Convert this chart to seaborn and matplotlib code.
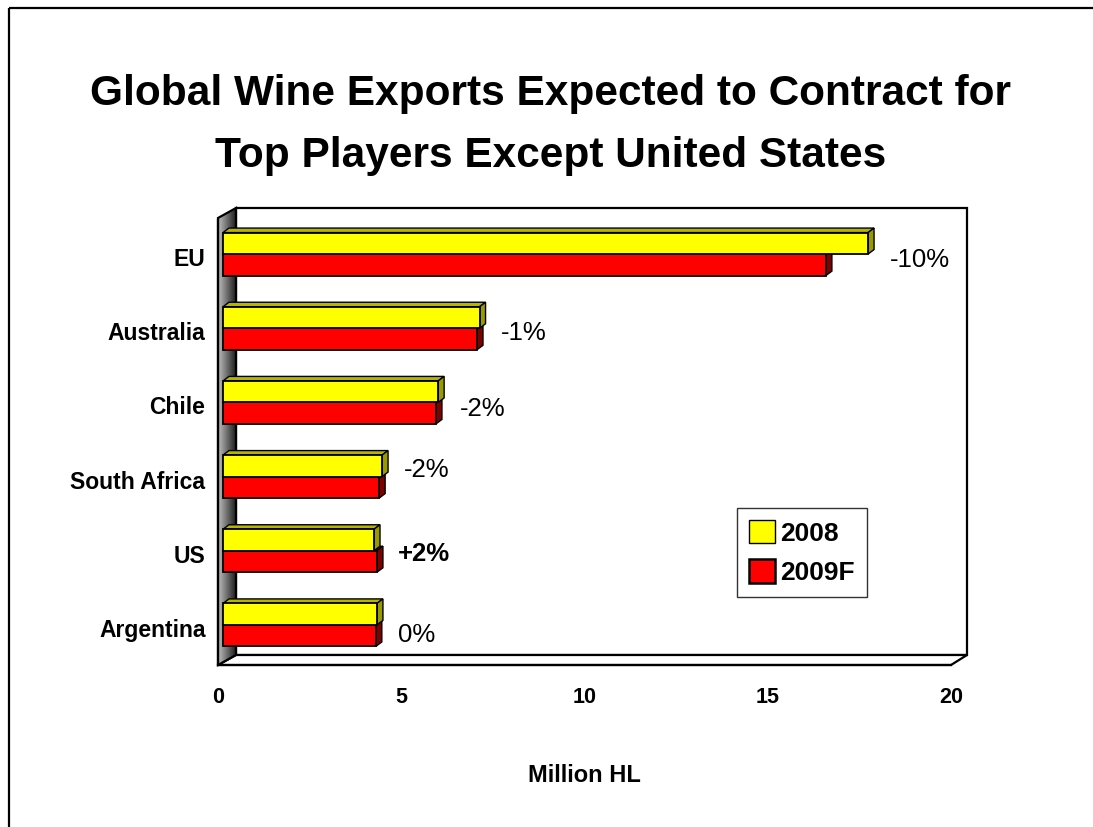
import numpy as np
import pandas as pd
import matplotlib
matplotlib.use("Agg")
import matplotlib.pyplot as plt
import matplotlib.transforms as mtransforms
from matplotlib.patches import Polygon, Patch
import seaborn as sns

# ---------------- data ----------------
countries = ["EU", "Australia", "Chile", "South Africa", "US", "Argentina"]
years = ["2008", "2009F"]
values_2008 = [17.6, 7.0, 5.87, 4.34, 4.12, 4.2]
values_2009 = [16.45, 6.93, 5.81, 4.26, 4.2, 4.17]
change_labels = ["-10%", "-1%", "-2%", "-2%", "+2%", "0%"]
change_bold = [False, False, False, False, True, False]
label_dy = [0.04, 0.03, 0.05, -0.13, 0.01, 0.09]
x_ticks = [0, 5, 10, 15, 20]

title_lines = ["Global Wine Exports Expected to Contract for",
               "Top Players Except United States"]
x_label = "Million HL"

front_colors = ["#FFFF00", "#FF0000"]
top_colors = ["#B5B500", "#990000"]
side_colors = ["#999900", "#800000"]

df = pd.DataFrame({
    "Country": countries * 2,
    "Year": [years[0]] * len(countries) + [years[1]] * len(countries),
    "Value": values_2008 + values_2009,
})

# ---------------- style ----------------
sns.set_style("white")
plt.rcParams["font.family"] = ["Liberation Sans", "DejaVu Sans"]
for key in ["text.color", "axes.labelcolor", "xtick.color", "ytick.color"]:
    plt.rcParams[key] = "black"

W, H = 1093, 827
fig = plt.figure(figsize=(W / 100, H / 100), dpi=100)
fig.patch.set_facecolor("white")

# pixel geometry of the chart frame
fx0, fx1 = 218, 951      # front plane x range
fy0, fy1 = 220, 665      # front plane y range (top, bottom)
DX, DY = 18, 10          # wall depth offset

# background axes in pixel coordinates
bg = fig.add_axes([0, 0, 1, 1], zorder=0)
bg.set_xlim(0, W)
bg.set_ylim(H, 0)
bg.axis("off")

# outer frame (top + left visible)
bg.plot([9, W], [8, 8], color="black", lw=1.6, solid_capstyle="butt")
bg.plot([9, 9], [8, H], color="black", lw=1.6, solid_capstyle="butt")

# back wall
bx0, by0, bx1, by1 = fx0 + DX, fy0 - 12, fx1 + 16, fy1 - DY
bg.add_patch(Polygon([(bx0, by0), (bx1, by0), (bx1, by1), (bx0, by1)],
                     closed=True, fc="white", ec="black", lw=1.6))
# floor
bg.add_patch(Polygon([(fx0, fy1), (fx1, fy1), (bx1, by1), (bx0, by1)],
                     closed=True, fc="white", ec="black", lw=1.6))
# left wall with gradient
wall = Polygon([(fx0, fy0 - 2), (bx0, by0), (bx0, by1), (fx0, fy1)],
               closed=True, fc="none", ec="black", lw=1.6, zorder=3)
bg.add_patch(wall)
grad = np.linspace(0.75, 0.12, 64)[None, :]
im = bg.imshow(grad, extent=[fx0, bx0, fy1, by0], cmap="gray", vmin=0, vmax=1,
               aspect="auto", zorder=2, interpolation="bilinear")
im.set_clip_path(wall)
bg.set_xlim(0, W)
bg.set_ylim(H, 0)

# main axes = front plane
ax = fig.add_axes([fx0 / W, 1 - fy1 / H, (fx1 - fx0) / W, (fy1 - fy0) / H], zorder=1)
ax.patch.set_alpha(0)

sns.barplot(data=df, y="Country", x="Value", hue="Year", hue_order=years,
            order=countries, palette=front_colors, saturation=1, width=0.58, orient="h",
            edgecolor="black", linewidth=1.3, errorbar=None, legend=False, ax=ax)

ax.set_xlim(0, 20)
ax.set_ylim(len(countries) - 0.5, -0.5)

# shift bars into the depth of the chart and add 3D faces
shift = mtransforms.ScaledTranslation(5 / 100, 3 / 100, fig.dpi_scale_trans)
bar_tr = ax.transData + shift
dx, dy = 6, 4.5
bars = [p for p in ax.patches]
n = len(countries)
for k, p in enumerate(bars):
    hue_i = 0 if k < n else 1
    p.set_transform(bar_tr)
    p.set_clip_on(False)
    z = 3 if hue_i == 0 else 2
    p.set_zorder(z)
    x0, y0 = p.get_x(), p.get_y()
    w, h = p.get_width(), p.get_height()
    (X0, Ya), (X1, Yb) = bar_tr.transform([(x0, y0), (x0 + w, y0 + h)])
    Ytop, Ybot = max(Ya, Yb), min(Ya, Yb)
    top = Polygon([(X0, Ytop), (X1, Ytop), (X1 + dx, Ytop + dy), (X0 + dx, Ytop + dy)],
                  closed=True, fc=top_colors[hue_i], ec="black", lw=1.0,
                  transform=mtransforms.IdentityTransform(), clip_on=False, zorder=z - 0.1)
    side = Polygon([(X1, Ybot), (X1 + dx, Ybot + dy), (X1 + dx, Ytop + dy), (X1, Ytop)],
                   closed=True, fc=side_colors[hue_i], ec="black", lw=1.0,
                   transform=mtransforms.IdentityTransform(), clip_on=False, zorder=z - 0.1)
    ax.add_patch(top)
    ax.add_patch(side)

# spines and ticks
for s in ["top", "right"]:
    ax.spines[s].set_visible(False)
for s in ["left", "bottom"]:
    ax.spines[s].set_linewidth(1.6)
    ax.spines[s].set_color("black")

ax.set_xticks(x_ticks)
ax.set_xticklabels([str(t) for t in x_ticks], fontsize=15.5, fontweight="bold")
ax.tick_params(axis="x", length=4.5, width=1.3, direction="out", pad=11, colors="black")

ax.set_yticks(range(n))
ax.set_yticklabels(countries, fontsize=16.5, fontweight="bold")
ax.set_yticks([i - 0.5 for i in range(n + 1)], minor=True)
ax.tick_params(axis="y", which="major", length=0, pad=9)
ax.tick_params(axis="y", which="minor", length=4, width=1.0, direction="out", colors="black")
ax.set_ylabel("")
ax.set_xlabel(x_label, fontsize=17, fontweight="bold")
ax.xaxis.set_label_coords(0.5, -0.222)
ax.grid(False)

# change labels
for i, (lab, b) in enumerate(zip(change_labels, change_bold)):
    xv = max(values_2008[i], values_2009[i]) + 0.72
    ax.text(xv, i + label_dy[i], lab, fontsize=18.5,
            fontweight="bold" if b else "normal", va="center", ha="left",
            color="black", clip_on=False)

# legend
handles = [Patch(fc=front_colors[0], ec="black", lw=1.0),
           Patch(fc=front_colors[1], ec="black", lw=1.8)]
leg = fig.legend(handles, years, loc="upper left",
                 bbox_to_anchor=(737 / W, 1 - 508 / H), bbox_transform=fig.transFigure,
                 frameon=True, fancybox=False, shadow=False, prop={"size": 19, "weight": "bold"},
                 handlelength=1.0, handleheight=1.0, handletextpad=0.2, borderpad=0.45,
                 labelspacing=0.5, borderaxespad=0)
leg.get_frame().set_edgecolor("black")
leg.get_frame().set_linewidth(1.0)

# title
fig.text(551 / W, 1 - 105 / H, title_lines[0],
         ha="center", va="baseline", fontsize=30.5, fontweight="bold", color="black")
fig.text(551 / W, 1 - 167 / H, title_lines[1],
         ha="center", va="baseline", fontsize=30.5, fontweight="bold", color="black")

fig.savefig("out.png", dpi=100, facecolor="white")
